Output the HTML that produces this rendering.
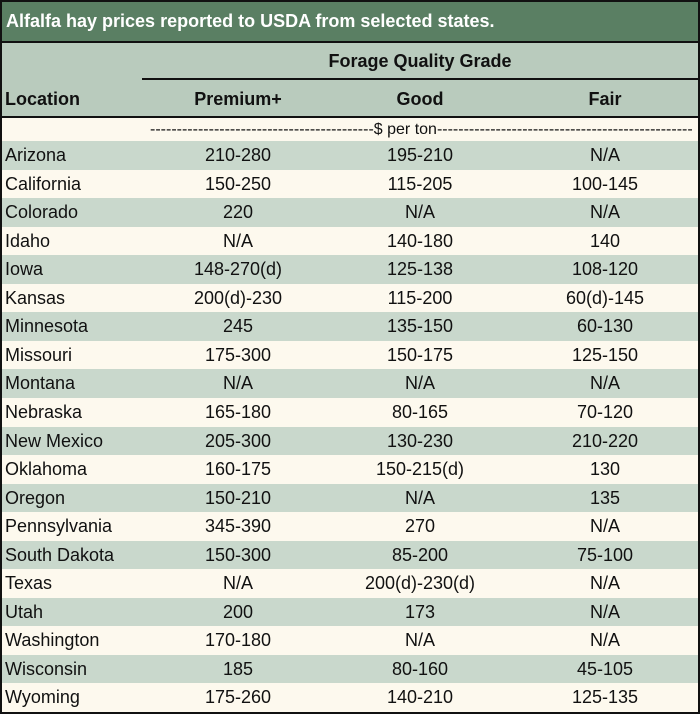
<!DOCTYPE html>
<html><head><style>
body{margin:0;width:700px;height:714px;overflow:hidden;background:#fff;font-family:"Liberation Sans",sans-serif;}
#w{position:absolute;left:0;top:0;width:696px;height:710px;border:2px solid #111;overflow:hidden;background:#fdf9ee}
.a{position:absolute;white-space:nowrap}
#t{left:0;top:0;width:696px;height:39px;background:#5a7f63;border-bottom:2px solid #111;color:#fff;font-weight:bold;font-size:18px;line-height:38px;text-indent:4px}
#h{left:0;top:41px;width:696px;height:73px;background:#b9cbbd;border-bottom:2px solid #111}
.r{position:absolute;left:0;width:696px;height:28.5px;font-size:18px;line-height:28.5px;color:#111}
.g{background:#c9d8cc}
.r span{position:absolute;top:0}
.c1{left:3px}.c2{left:136px;width:200px;text-align:center}.c3{left:318px;width:200px;text-align:center}.c4{left:503px;width:200px;text-align:center}
.hb{font-weight:bold;font-size:18px;color:#111}
</style></head><body><div id="w">
<div class="a" id="t">Alfalfa hay prices reported to USDA from selected states.</div>
<div class="a" id="h">
<div class="a hb" style="left:318px;width:200px;text-align:center;top:8px">Forage Quality Grade</div>
<div class="a" style="left:140px;top:35px;width:560px;height:2px;background:#111"></div>
<div class="a hb" style="left:3px;top:46px">Location</div>
<div class="a hb" style="left:136px;width:200px;text-align:center;top:46px">Premium+</div>
<div class="a hb" style="left:318px;width:200px;text-align:center;top:46px">Good</div>
<div class="a hb" style="left:503px;width:200px;text-align:center;top:46px">Fair</div>
</div>
<div class="a" style="left:148px;top:116px;width:542px;font-size:16px;line-height:24px;overflow:hidden;text-align:center;color:#111">------------------------------------------$ per ton-----------------------------------------------------</div>
<div id="rows"></div>
</div>
<script>
var d=[["Arizona","210-280","195-210","N/A"],["California","150-250","115-205","100-145"],["Colorado","220","N/A","N/A"],["Idaho","N/A","140-180","140"],["Iowa","148-270(d)","125-138","108-120"],["Kansas","200(d)-230","115-200","60(d)-145"],["Minnesota","245","135-150","60-130"],["Missouri","175-300","150-175","125-150"],["Montana","N/A","N/A","N/A"],["Nebraska","165-180","80-165","70-120"],["New Mexico","205-300","130-230","210-220"],["Oklahoma","160-175","150-215(d)","130"],["Oregon","150-210","N/A","135"],["Pennsylvania","345-390","270","N/A"],["South Dakota","150-300","85-200","75-100"],["Texas","N/A","200(d)-230(d)","N/A"],["Utah","200","173","N/A"],["Washington","170-180","N/A","N/A"],["Wisconsin","185","80-160","45-105"],["Wyoming","175-260","140-210","125-135"]];
var h="";d.forEach(function(r,i){h+='<div class="r'+(i%2?'':' g')+'" style="top:'+(139+i*28.55)+'px"><span class="c1">'+r[0]+'</span><span class="c2">'+r[1]+'</span><span class="c3">'+r[2]+'</span><span class="c4">'+r[3]+'</span></div>';});
document.getElementById("rows").innerHTML=h;
</script>
</body></html>
